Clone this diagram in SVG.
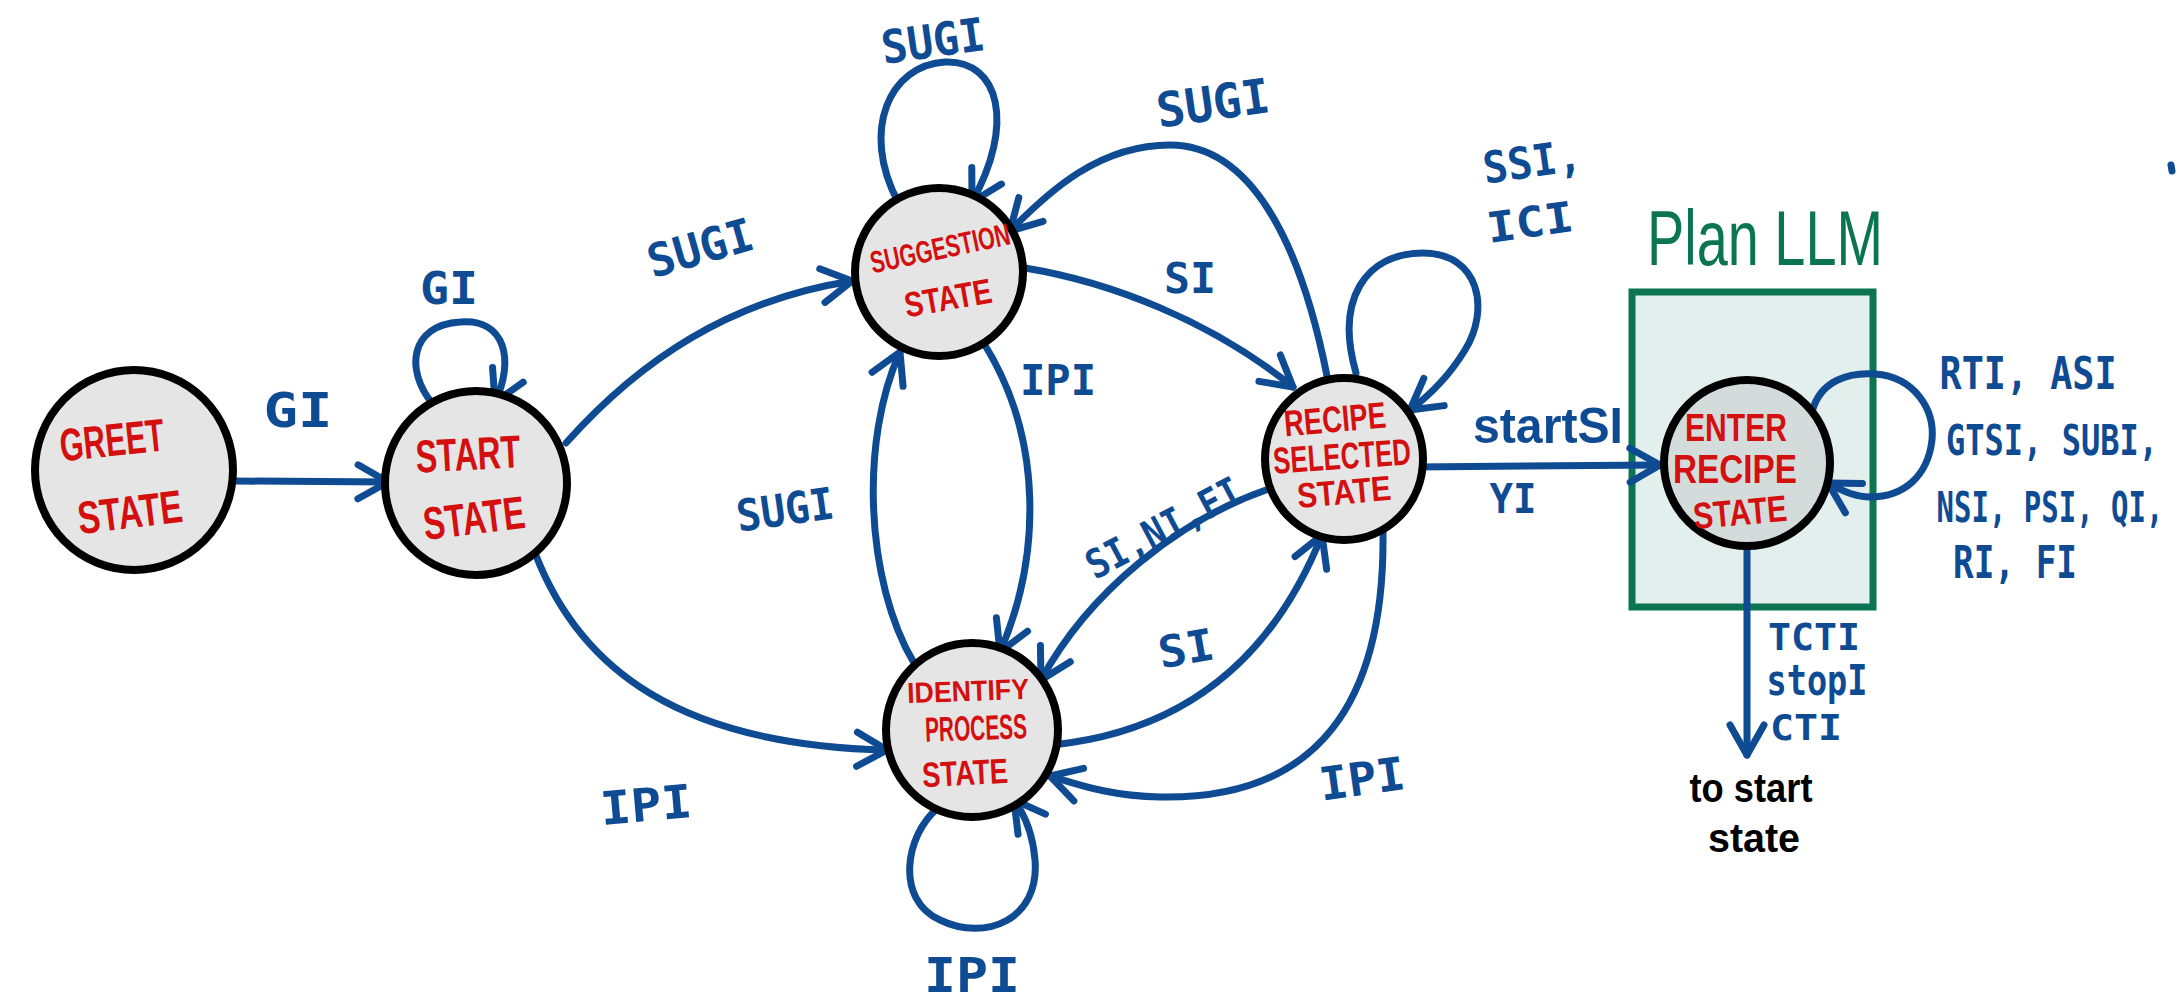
<svg xmlns="http://www.w3.org/2000/svg" width="2179" height="999" viewBox="0 0 2179 999">
<defs>
<style>
.node{fill:#e5e5e5;stroke:#000;stroke-width:8}
.edge{fill:none;stroke:#0f4b93;stroke-width:7;stroke-linecap:round;stroke-linejoin:round}
.ah{fill:none;stroke:#0f4b93;stroke-width:7;stroke-linecap:round;stroke-linejoin:round}
.nt{font-family:"Liberation Sans",Arial,sans-serif;font-weight:bold;fill:#d40f0f;text-anchor:middle}
.lbl{font-family:"DejaVu Sans Mono",monospace;font-weight:bold;fill:#0f4b93;text-anchor:middle}
.hand{font-family:"Liberation Sans",Arial,sans-serif;font-weight:bold;text-anchor:middle}
</style>
<marker id="arr" markerUnits="userSpaceOnUse" markerWidth="1" markerHeight="1" refX="0" refY="0" orient="auto" overflow="visible">
<path d="M -30 -17 L 0 0 L -30 17" class="ah"/>
</marker>
</defs>
<rect width="2179" height="999" fill="#fff"/>

<g id="plan-llm">
<rect x="1632" y="292" width="241" height="315" fill="#e2efed" stroke="#0b7552" stroke-width="7"/>
<text x="1765" y="265" font-size="78" textLength="236" lengthAdjust="spacingAndGlyphs" style="font-family:'Liberation Sans',Arial,sans-serif;fill:#0b7552;text-anchor:middle">Plan LLM</text>
</g>

<g id="connectors">
<path class="edge" marker-end="url(#arr)" d="M 235 481 L 388 482"/>
<path class="edge" marker-end="url(#arr)" d="M 432 403 C 405 370, 410 325, 460 322 C 505 318, 515 360, 495 402"/>
<path class="edge" marker-end="url(#arr)" d="M 566 443 C 640 360, 730 300, 852 281"/>
<path class="edge" marker-end="url(#arr)" d="M 535 553 C 580 670, 680 745, 887 750"/>
<path class="edge" marker-end="url(#arr)" d="M 898 202 C 860 130, 890 65, 945 62 C 1000 60, 1015 125, 972 202"/>
<path class="edge" marker-end="url(#arr)" d="M 1327 376 C 1300 240, 1250 145, 1170 145 C 1100 145, 1050 190, 1010 231"/>
<path class="edge" marker-end="url(#arr)" d="M 1025 268 C 1110 282, 1210 320, 1293 387"/>
<path class="edge" marker-end="url(#arr)" d="M 983 342 C 1045 440, 1040 560, 1000 652"/>
<path class="edge" marker-end="url(#arr)" d="M 914 663 C 865 580, 860 440, 900 352"/>
<path class="edge" marker-end="url(#arr)" d="M 1266 490 C 1180 520, 1090 590, 1041 680"/>
<path class="edge" marker-end="url(#arr)" d="M 1053 745 C 1150 735, 1260 690, 1322 535"/>
<path class="edge" marker-end="url(#arr)" d="M 1383 532 C 1385 700, 1320 800, 1160 797 C 1110 796, 1080 785, 1050 776"/>
<path class="edge" marker-end="url(#arr)" d="M 938 808 C 905 835, 895 900, 940 920 C 985 942, 1040 920, 1035 860 C 1033 835, 1025 815, 1014 800"/>
<path class="edge" marker-end="url(#arr)" d="M 1356 373 C 1335 300, 1365 253, 1423 253 C 1480 253, 1490 310, 1465 350 C 1448 378, 1430 395, 1410 410"/>
<path class="edge" marker-end="url(#arr)" d="M 1415 467 L 1660 465"/>
<path class="edge" marker-end="url(#arr)" d="M 1812 412 C 1820 380, 1850 372, 1875 374 C 1915 377, 1935 410, 1932 440 C 1928 475, 1905 497, 1870 497 C 1855 497, 1840 490, 1828 483"/>
<path class="edge" marker-end="url(#arr)" d="M 1747 547 L 1747 755"/>
<path class="edge" d="M 2171 165 L 2172 171" stroke-width="3"/>
</g>

<g id="node-greet">
<ellipse class="node" cx="134" cy="470" rx="99" ry="100"/>
<text class="nt" x="112" y="456" font-size="46" textLength="105" lengthAdjust="spacingAndGlyphs" transform="rotate(-6 112 440)">GREET</text>
<text class="nt" x="130" y="528" font-size="46" textLength="105" lengthAdjust="spacingAndGlyphs" transform="rotate(-7 130 512)">STATE</text>
</g>

<g id="node-start">
<ellipse class="node" cx="476" cy="483" rx="91" ry="92"/>
<text class="nt" x="468" y="470" font-size="46" textLength="105" lengthAdjust="spacingAndGlyphs" transform="rotate(-3 468 454)">START</text>
<text class="nt" x="474" y="534" font-size="46" textLength="102" lengthAdjust="spacingAndGlyphs" transform="rotate(-7 474 518)">STATE</text>
</g>

<g id="node-suggestion">
<ellipse class="node" cx="939" cy="272" rx="84" ry="84"/>
<text class="nt" x="940" y="259" font-size="31" textLength="142" lengthAdjust="spacingAndGlyphs" transform="rotate(-12 940 248)">SUGGESTION</text>
<text class="nt" x="948" y="310" font-size="35" textLength="88" lengthAdjust="spacingAndGlyphs" transform="rotate(-10 948 298)">STATE</text>
</g>

<g id="node-identify">
<ellipse class="node" cx="972" cy="730" rx="86" ry="87"/>
<text class="nt" x="968" y="701" font-size="29" textLength="122" lengthAdjust="spacingAndGlyphs" transform="rotate(-2 968 691)">IDENTIFY</text>
<text class="nt" x="976" y="740" font-size="35" textLength="102" lengthAdjust="spacingAndGlyphs" transform="rotate(-2 976 728)">PROCESS</text>
<text class="nt" x="965" y="785" font-size="35" textLength="86" lengthAdjust="spacingAndGlyphs" transform="rotate(-3 965 773)">STATE</text>
</g>

<g id="node-recipe-selected">
<ellipse class="node" cx="1344" cy="459" rx="79" ry="81"/>
<text class="nt" x="1335" y="432" font-size="37" textLength="102" lengthAdjust="spacingAndGlyphs" transform="rotate(-5 1335 419)">RECIPE</text>
<text class="nt" x="1342" y="469" font-size="37" textLength="138" lengthAdjust="spacingAndGlyphs" transform="rotate(-4 1342 456)">SELECTED</text>
<text class="nt" x="1344" y="504" font-size="35" textLength="94" lengthAdjust="spacingAndGlyphs" transform="rotate(-5 1344 492)">STATE</text>
</g>

<g id="node-enter-recipe">
<ellipse class="node" cx="1747" cy="463" rx="83" ry="83" style="fill:#d4dcdb"/>
<text class="nt" x="1736" y="441" font-size="39" textLength="102" lengthAdjust="spacingAndGlyphs">ENTER</text>
<text class="nt" x="1735" y="483" font-size="41" textLength="124" lengthAdjust="spacingAndGlyphs">RECIPE</text>
<text class="nt" x="1740" y="525" font-size="37" textLength="94" lengthAdjust="spacingAndGlyphs" transform="rotate(-5 1740 512)">STATE</text>
</g>

<g id="edge-labels">
<text class="lbl" x="298" y="427" font-size="48" textLength="69" lengthAdjust="spacingAndGlyphs">GI</text>
<text class="lbl" x="449" y="304" font-size="44" textLength="58" lengthAdjust="spacingAndGlyphs">GI</text>
<text class="lbl" x="700" y="264" font-size="46" textLength="108" lengthAdjust="spacingAndGlyphs" transform="rotate(-16 700 247)">SUGI</text>
<text class="lbl" x="933" y="57" font-size="46" textLength="104" lengthAdjust="spacingAndGlyphs" transform="rotate(-8 933 40)">SUGI</text>
<text class="lbl" x="1213" y="120" font-size="48" textLength="114" lengthAdjust="spacingAndGlyphs" transform="rotate(-8 1213 103)">SUGI</text>
<text class="lbl" x="1190" y="293" font-size="42" textLength="52" lengthAdjust="spacingAndGlyphs">SI</text>
<text class="lbl" x="1058" y="395" font-size="42" textLength="76" lengthAdjust="spacingAndGlyphs">IPI</text>
<text class="lbl" x="785" y="525" font-size="44" textLength="98" lengthAdjust="spacingAndGlyphs" transform="rotate(-8 785 509)">SUGI</text>
<text class="lbl" x="1163" y="542" font-size="40" textLength="170" lengthAdjust="spacingAndGlyphs" transform="rotate(-28 1163 527)">SI,NI,FI</text>
<text class="lbl" x="1186" y="664" font-size="44" textLength="56" lengthAdjust="spacingAndGlyphs" transform="rotate(-10 1186 648)">SI</text>
<text class="lbl" x="1362" y="795" font-size="46" textLength="86" lengthAdjust="spacingAndGlyphs" transform="rotate(-8 1362 778)">IPI</text>
<text class="lbl" x="646" y="821" font-size="46" textLength="92" lengthAdjust="spacingAndGlyphs" transform="rotate(-5 646 804)">IPI</text>
<text class="lbl" x="972" y="992" font-size="48" textLength="96" lengthAdjust="spacingAndGlyphs">IPI</text>
<text class="lbl" x="1532" y="177" font-size="44" textLength="99" lengthAdjust="spacingAndGlyphs" transform="rotate(-8 1532 161)">SSI,</text>
<text class="lbl" x="1530" y="237" font-size="42" textLength="87" lengthAdjust="spacingAndGlyphs" transform="rotate(-8 1530 222)">ICI</text>
<text class="hand" x="1548" y="443" font-size="50" textLength="150" lengthAdjust="spacingAndGlyphs" style="fill:#0f4b93">startSI</text>
<text class="lbl" x="1513" y="513" font-size="40" textLength="47" lengthAdjust="spacingAndGlyphs">YI</text>
<text class="lbl" x="2028" y="389" font-size="44" textLength="177" lengthAdjust="spacingAndGlyphs">RTI, ASI</text>
<text class="lbl" x="0" y="0" font-size="32" transform="translate(2052 455) scale(1 1.35)">GTSI, SUBI,</text>
<text class="lbl" x="0" y="0" font-size="29" transform="translate(2050 522) scale(1 1.5)">NSI, PSI, QI,</text>
<text class="lbl" x="2015" y="578" font-size="44" textLength="124" lengthAdjust="spacingAndGlyphs">RI, FI</text>
<text class="lbl" x="1814" y="650" font-size="38" textLength="92" lengthAdjust="spacingAndGlyphs">TCTI</text>
<text class="lbl" x="1817" y="695" font-size="42" textLength="101" lengthAdjust="spacingAndGlyphs">stopI</text>
<text class="lbl" x="1806" y="740" font-size="36" textLength="72" lengthAdjust="spacingAndGlyphs">CTI</text>
<text class="hand" x="1751" y="802" font-size="40" textLength="123" lengthAdjust="spacingAndGlyphs" style="fill:#000">to start</text>
<text class="hand" x="1754" y="852" font-size="40" textLength="92" lengthAdjust="spacingAndGlyphs" style="fill:#000">state</text>
</g>
</svg>
